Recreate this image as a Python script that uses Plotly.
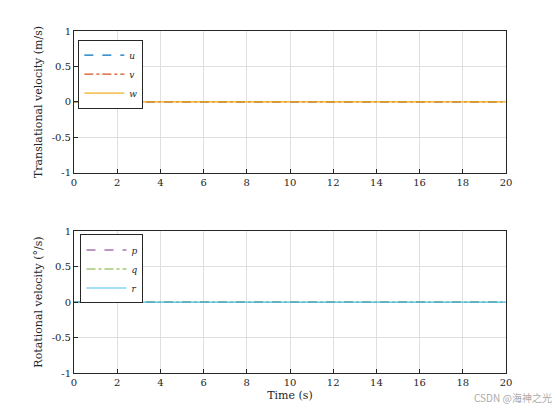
import plotly.graph_objects as go
from plotly.subplots import make_subplots

time = [0, 5, 10, 15, 20]
u = [0, 0, 0, 0, 0]
v = [0, 0, 0, 0, 0]
w = [0, 0, 0, 0, 0]
p = [0, 0, 0, 0, 0]
q = [0, 0, 0, 0, 0]
r = [0, 0, 0, 0, 0]

fig = make_subplots(rows=2, cols=1)
FAM = "DejaVu Serif, serif"
F = dict(family=FAM, size=11, color="#262626")
for name, y, c, d in [("u", u, "#0072BD", "dash"), ("v", v, "#D95319", "dashdot"), ("w", w, "#EDB120", "solid")]:
    fig.add_trace(go.Scatter(x=time, y=y, mode="lines", name=f"<i>{name}</i>", line=dict(color=c, dash=d, width=1.2), legend="legend"), 1, 1)
for name, y, c, d in [("p", p, "#7E2F8E", "dash"), ("q", q, "#77AC30", "dashdot"), ("r", r, "#4DBEEE", "solid")]:
    fig.add_trace(go.Scatter(x=time, y=y, mode="lines", name=f"<i>{name}</i>", line=dict(color=c, dash=d, width=1.2), legend="legend2"), 2, 1)

ax = dict(showline=True, mirror=True, linecolor="#262626", linewidth=1, gridcolor="#dfdfdf",
          ticks="inside", ticklen=4, tickcolor="#262626", zeroline=False, tickfont=dict(family=FAM, size=10, color="#262626"))
fig.update_xaxes(range=[0, 20], dtick=2, **ax)
fig.update_yaxes(range=[-1, 1], tickvals=[-1, -0.5, 0, 0.5, 1], ticktext=["-1", "-0.5", "0", "0.5", "1"], **ax)
fig.update_layout(
    yaxis=dict(domain=[0.585, 1], title=dict(text="Translational velocity (m/s)", font=F, standoff=6)),
    yaxis2=dict(domain=[0, 0.415], title=dict(text="Rotational velocity (°/s)", font=F, standoff=6)),
    xaxis2=dict(title=dict(text="Time (s)", font=F, standoff=4)),
    width=560, height=420, margin=dict(l=66, r=62, t=23, b=55),
    plot_bgcolor="white", paper_bgcolor="white", font=F,
    legend=dict(x=0.01, y=0.975, xanchor="left", yanchor="top", bgcolor="white", bordercolor="#262626", borderwidth=1,
                font=dict(size=9, family=FAM), tracegroupgap=0, itemwidth=40),
    legend2=dict(x=0.015, y=0.405, xanchor="left", yanchor="top", bgcolor="white", bordercolor="#262626", borderwidth=1,
                 font=dict(size=9, family=FAM), tracegroupgap=0, itemwidth=40),
)
fig.add_annotation(text="CSDN @海神之光", xref="paper", yref="paper", x=1.11, y=-0.1, showarrow=False,
                   font=dict(family="Noto Sans CJK SC", size=10, color="#aaaaaa"), xanchor="right")
fig.write_html("out.html")
